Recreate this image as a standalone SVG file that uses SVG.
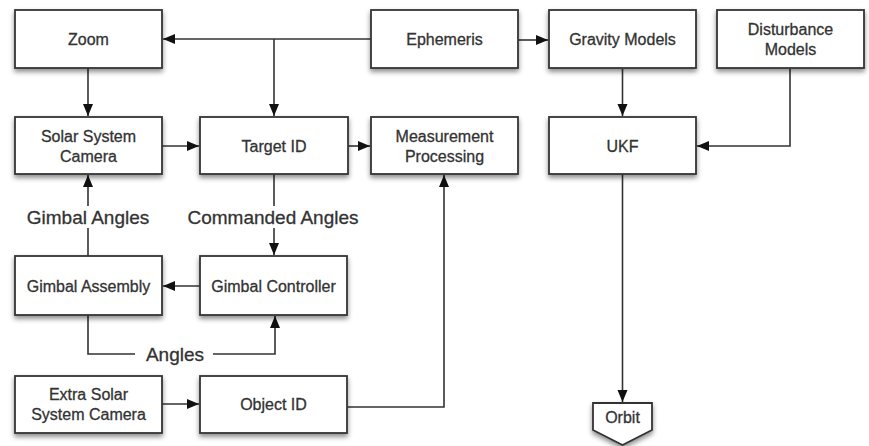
<svg xmlns="http://www.w3.org/2000/svg" width="869" height="446" viewBox="0 0 869 446">
<style>
.box{fill:#fff;stroke:#333;stroke-width:1.8;filter:url(#sh)}
.t{font-family:"Liberation Sans",Arial,sans-serif;font-size:16px;fill:#333;stroke:#333;stroke-width:0.3;text-anchor:middle}
.lbl{font-family:"Liberation Sans",Arial,sans-serif;font-size:19px;fill:#333;stroke:#333;stroke-width:0.3;text-anchor:middle}
.c{fill:none;stroke:#333;stroke-width:1.6}
.a{marker-end:url(#ah)}
</style>
<defs>
<filter id="sh" x="-10%" y="-10%" width="120%" height="140%">
<feDropShadow dx="0" dy="3" stdDeviation="2.5" flood-color="#000" flood-opacity="0.45"/>
</filter>
<marker id="ah" markerUnits="userSpaceOnUse" markerWidth="13" markerHeight="11" refX="12" refY="5.5" orient="auto">
<path d="M0,0.5 L12,5.5 L0,10.5 z" fill="#111"/>
</marker>
</defs>
<rect width="869" height="446" fill="#fff"/>
<g id="connectors">
<path class="c a" d="M371,39 H163"/>
<path class="c a" d="M274,39 V116"/>
<path class="c a" d="M518,40 H548"/>
<path class="c a" d="M88,68 V116"/>
<path class="c a" d="M162,146 H199"/>
<path class="c a" d="M348,146 H370"/>
<path class="c a" d="M622.5,69 V116"/>
<path class="c a" d="M790,69 V146 H697"/>
<path class="c" d="M88,256 V228"/>
<path class="c a" d="M88,206 V175"/>
<path class="c" d="M274,174 V206"/>
<path class="c a" d="M274,228 V255"/>
<path class="c a" d="M200,286 H163"/>
<path class="c" d="M88,315 V354 H135"/>
<path class="c a" d="M213,354 H275 V316"/>
<path class="c a" d="M162,404 H199"/>
<path class="c a" d="M347,407 H444 V175"/>
<path class="c a" d="M622.5,174 V402"/>
<text class="lbl" x="88" y="224">Gimbal Angles</text>
<text class="lbl" x="273" y="224">Commanded Angles</text>
<text class="lbl" x="175" y="361">Angles</text>
</g>
<g id="zoom"><rect class="box" x="15" y="10" width="147" height="58"/><text class="t" x="88.5" y="45">Zoom</text></g>
<g id="ephemeris"><rect class="box" x="371" y="10" width="147" height="58"/><text class="t" x="444.5" y="45">Ephemeris</text></g>
<g id="gravity"><rect class="box" x="549" y="10" width="147" height="58"/><text class="t" x="622.5" y="45">Gravity Models</text></g>
<g id="disturbance"><rect class="box" x="717" y="10" width="147" height="58"/><text class="t" x="790.5" y="35">Disturbance</text><text class="t" x="790.5" y="55">Models</text></g>
<g id="solarcam"><rect class="box" x="15" y="117" width="147" height="57"/><text class="t" x="88.5" y="142">Solar System</text><text class="t" x="88.5" y="162">Camera</text></g>
<g id="targetid"><rect class="box" x="200" y="117" width="148" height="57"/><text class="t" x="274" y="152">Target ID</text></g>
<g id="measurement"><rect class="box" x="371" y="117" width="147" height="57"/><text class="t" x="444.5" y="142">Measurement</text><text class="t" x="444.5" y="162">Processing</text></g>
<g id="ukf"><rect class="box" x="549" y="117" width="147" height="57"/><text class="t" x="622.5" y="152">UKF</text></g>
<g id="gimbalassembly"><rect class="box" x="15" y="256" width="147" height="59"/><text class="t" x="88.5" y="292">Gimbal Assembly</text></g>
<g id="gimbalcontroller"><rect class="box" x="200" y="256" width="147" height="59"/><text class="t" x="273.5" y="292">Gimbal Controller</text></g>
<g id="extrasolar"><rect class="box" x="15" y="376" width="147" height="57"/><text class="t" x="88.5" y="400">Extra Solar</text><text class="t" x="88.5" y="420">System Camera</text></g>
<g id="objectid"><rect class="box" x="200" y="376" width="147" height="57"/><text class="t" x="273.5" y="410">Object ID</text></g>
<g id="orbit"><path class="box" d="M593,403 H652 V430 L622.5,445 L593,430 Z"/><text class="t" x="622.5" y="423" style="font-size:16px">Orbit</text></g>
</svg>
